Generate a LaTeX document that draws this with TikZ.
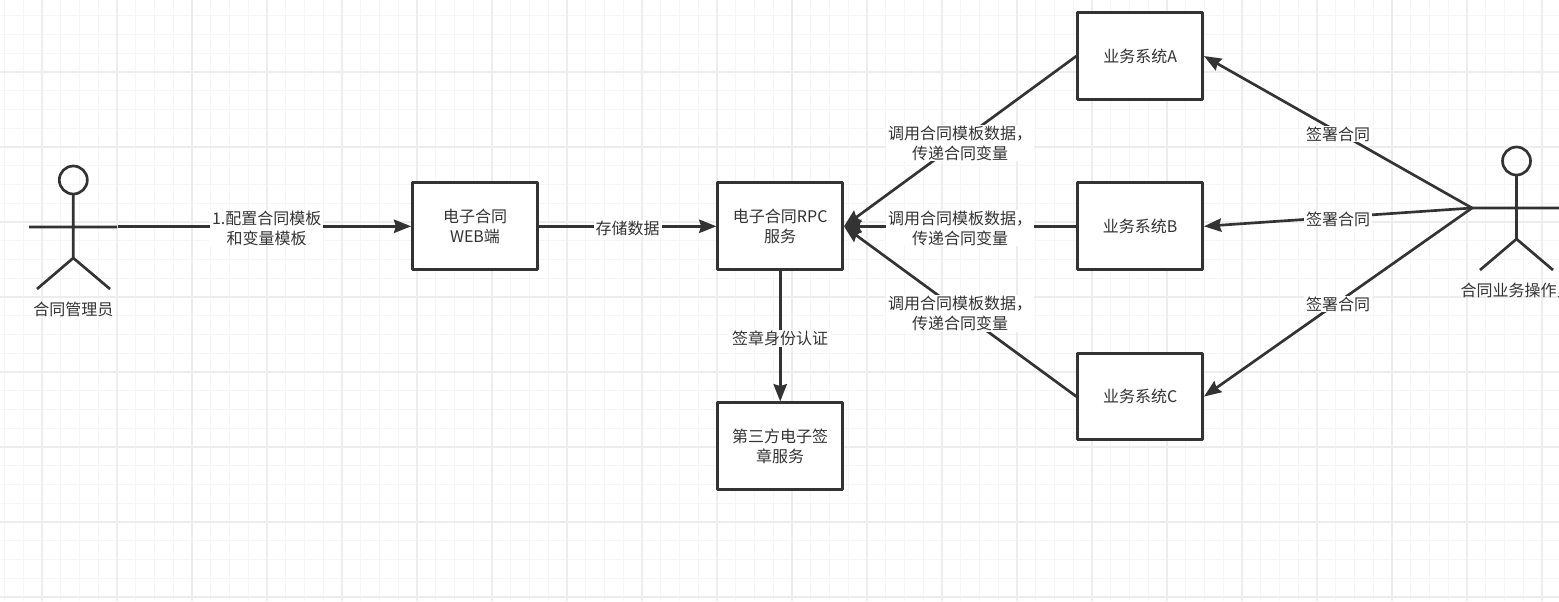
\documentclass[tikz,border=0pt]{standalone}
\usepackage{fontspec}
\setmainfont{Noto Sans CJK SC}
\usetikzlibrary{
  arrows.meta,
  positioning,  % Function "of" (e.g. [right=of x])
}
\definecolor{myink}{HTML}{333333}
\definecolor{mygridmajor}{HTML}{EDEDED}
\definecolor{mygridminor}{HTML}{F6F6F6}
\def\myboxw{93.4pt}
\def\myboxh{65pt}
\def\myvdist{60.45pt}
\def\myhdist{174.35pt}
\tikzset{
  font=\fontsize{12pt}{15pt}\selectfont,
  >={Stealth[length=13pt,width=10pt,inset=1.5pt]},
  my box/.style={
    draw=myink,
    fill=white,
    line width=2.25pt,
    line join=round,
    rectangle,
    align=center,
    text=myink,
    outer sep=1.125pt,
    minimum width=\myboxw,
    minimum height=\myboxh
  },
  my head/.style={
    draw=myink,
    line width=2pt,
    circle,
    inner sep=0pt,
    outer sep=0pt,
    minimum size=21pt
  },
  my limb/.style={
    draw=myink,
    line width=2pt
  },
  my link/.style={
    draw=myink,
    line width=2pt,
    ->
  },
  my label/.style={
    fill=white,
    align=center,
    text=myink,
    inner xsep=1.5pt,
    inner ysep=0.5pt,
    yshift=-1.5pt
  },
  my name/.style={
    text=myink,
    inner sep=0pt
  }
}

\begin{document}
\begin{tikzpicture}[x=0.75pt,y=-0.75pt]
\useasboundingbox (0,0) rectangle (1559,601);
\fill[white] (0,0) rectangle (1559,601);
% grid
\foreach \x in {4.5,23.25,...,1559} \draw[mygridminor,line width=1pt] (\x,0) -- (\x,601);
\foreach \y in {15.75,34.5,...,601} \draw[mygridminor,line width=1pt] (0,\y) -- (1559,\y);
\foreach \x in {42,117,...,1559} \draw[mygridmajor,line width=1pt] (\x,0) -- (\x,601);
\foreach \y in {72,147,...,601} \draw[mygridmajor,line width=1pt] (0,\y) -- (1559,\y);

% boxes
\node[my box] (web) at (475,226.3) {电子合同\\WEB端};
\node[my box] (rpc) [right=133.25pt of web] {电子合同RPC\\服务};
\node[my box] (sign) [below=97.75pt of rpc] {第三方电子签\\章服务};
\node[my box] (sysb) [right=\myhdist of rpc] {业务系统B};
\node[my box] (sysa) [above=\myvdist of sysb] {业务系统A};
\node[my box] (sysc) [below=\myvdist of sysb] {业务系统C};

% left actor
\node[my head] (adminhead) at (73.3,180) {};
\coordinate (adminhip) at (73.3,258);
\coordinate (adminarml) at (29,227);
\coordinate (adminarmr) at (117,227);
\coordinate (adminlegl) at (37,289);
\coordinate (adminlegr) at (110,289);
\coordinate (adminout) at (118,226.3);
\draw[my limb] (adminhead) -- (adminhip) (adminarml) -- (adminarmr)
  (adminlegl) -- (adminhip) -- (adminlegr);
\node[my name] (adminname) at (73.3,309) {合同管理员};

% right actor
\node[my head] (userhead) at (1516.5,161) {};
\coordinate (userhip) at (1516.5,239);
\coordinate (userarml) at (1472,208);
\coordinate (userarmr) at (1562,208);
\coordinate (userlegl) at (1480,270);
\coordinate (userlegr) at (1553,270);
\draw[my limb] (userhead) -- (userhip) (userarml) -- (userarmr)
  (userlegl) -- (userhip) -- (userlegr);
\node[my name] (username) at (1516.5,290) {合同业务操作员};

% links
\path[my link] (adminout) -- node[my label,pos=0.507]{1.配置合同模板\\和变量模板} (web.west);
\path[my link] (web) -- node[my label]{存储数据} (rpc);
\path[my link] (rpc) -- node[my label]{签章身份认证} (sign);
\foreach \s in {sysa,sysb,sysc} {
  \path[my link] (\s.west) -- node[my label]{调用合同模板数据，\\传递合同变量} (rpc.east);
  \path[my link] (userarml) -- node[my label]{签署合同} (\s.east);
}
\end{tikzpicture}
\end{document}
